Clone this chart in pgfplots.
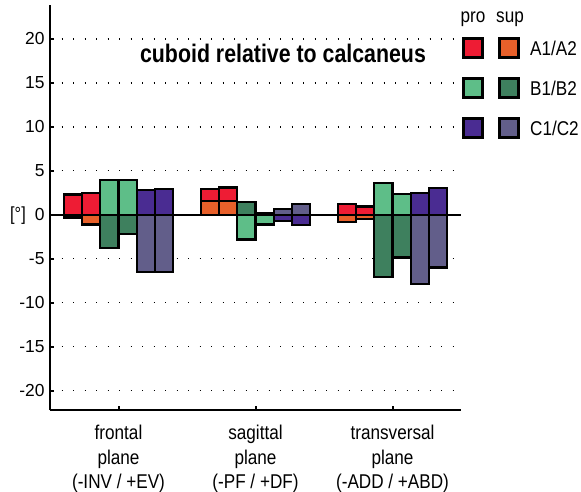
\documentclass[border=0pt]{standalone}
\usepackage{pgfplots}
\usepackage{pgfplotstable}
\pgfplotsset{compat=1.18}
\usepackage{fontspec}
\setmainfont{Liberation Sans}
\newfontfamily\titlefont[FakeStretch=0.84]{Liberation Sans Bold}
\newfontfamily\condfont[FakeStretch=0.86]{Liberation Sans}

\definecolor{proA}{RGB}{238,28,52}
\definecolor{supA}{RGB}{232,96,42}
\definecolor{proB}{RGB}{94,190,136}
\definecolor{supB}{RGB}{62,128,94}
\definecolor{proC}{RGB}{74,44,146}
\definecolor{supC}{RGB}{98,94,138}

% angle of the cuboid relative to the calcaneus [deg], one row per plane
\pgfplotstableread{
plane A1pro A1sup A2pro A2sup B1pro B1sup B2pro B2sup C1pro C1sup C2pro C2sup
1     2.30  -0.30 2.45  -1.10 4.00  -3.80 4.00  -2.15 2.80  -6.50 2.95  -6.50
2     2.90   1.60 3.10   1.60 -2.80  1.50 -1.10  0.20 -0.75  0.70 -1.15  1.25
3     1.25  -0.85 0.95  -0.45 3.65  -7.10 2.40  -4.85 2.45  -7.85 3.05  -6.00
}\datatable

\pgfplotsset{
  cond/.style={ybar, bar width=0.1333, bar shift=#1, draw=black, line width=2.2bp},
}

\begin{document}
\begin{tikzpicture}[x=1bp,y=1bp]
\useasboundingbox (0,0) rectangle (581,-492);
\begin{axis}[
  at={(50bp,-410bp)}, anchor=south west,
  scale only axis, width=411bp, height=405bp,
  xmin=0.5, xmax=3.5, ymin=-22.2, ymax=23.86,
  axis x line=bottom, axis y line=left,
  axis line style={-, line width=2.4bp, black},
  xtick={1,2,3},
  xticklabels={{frontal\\plane\\(-INV / +EV)},{sagittal\\plane\\(-PF / +DF)},{transversal\\plane\\(-ADD / +ABD)}},
  xticklabel style={align=center, font=\condfont\fontsize{20}{24.5}\selectfont, yshift=-12bp},
  ytick={-20,-15,...,20},
  yticklabel style={font=\fontsize{17.5}{18}\selectfont, xshift=-2bp},
  /pgf/number format/assume math mode=true,
  tick align=inside, major tick length=4bp,
  tick style={line width=2bp, black},
  ymajorgrids,
  grid style={black, line width=1.3bp, dash pattern=on 1.3bp off 10.2bp},
  extra y ticks={0}, extra y tick labels={},
  extra y tick style={grid style={solid, line width=2.4bp, black}, major tick length=0pt},
  clip=false,
]
% pronation values first, supination values drawn over them
\addplot[cond=-0.3333, fill=proA] table[x=plane, y=A1pro]{\datatable};
\addplot[cond=-0.2000, fill=proA] table[x=plane, y=A2pro]{\datatable};
\addplot[cond=-0.0667, fill=proB] table[x=plane, y=B1pro]{\datatable};
\addplot[cond=0.0667,  fill=proB] table[x=plane, y=B2pro]{\datatable};
\addplot[cond=0.2000,  fill=proC] table[x=plane, y=C1pro]{\datatable};
\addplot[cond=0.3333,  fill=proC] table[x=plane, y=C2pro]{\datatable};
\addplot[cond=-0.3333, fill=supA] table[x=plane, y=A1sup]{\datatable};
\addplot[cond=-0.2000, fill=supA] table[x=plane, y=A2sup]{\datatable};
\addplot[cond=-0.0667, fill=supB] table[x=plane, y=B1sup]{\datatable};
\addplot[cond=0.0667,  fill=supB] table[x=plane, y=B2sup]{\datatable};
\addplot[cond=0.2000,  fill=supC] table[x=plane, y=C1sup]{\datatable};
\addplot[cond=0.3333,  fill=supC] table[x=plane, y=C2sup]{\datatable};
\end{axis}

% title and y unit
\node[anchor=base, font=\titlefont\fontsize{25.5}{26}\selectfont] at (283,-63) {cuboid relative to calcaneus};
\node[anchor=base, font=\condfont\fontsize{19}{19}\selectfont] at (18,-221) {[°]};

% key: pronation / supination columns
\begin{scope}[font=\condfont\fontsize{20}{20}\selectfont]
\node[anchor=base] at (473,-23) {pro};
\node[anchor=base] at (510,-23) {sup};
\foreach \y/\cp/\cs/\lab in {48/proA/supA/A1\slash A2, 88/proB/supB/B1\slash B2, 128/proC/supC/C1\slash C2}{
  \node[draw=black, line width=2.4bp, fill=\cp, minimum size=19bp, inner sep=0pt] at (473,-\y) {};
  \node[draw=black, line width=2.4bp, fill=\cs, minimum size=19bp, inner sep=0pt] at (509,-\y) {};
  \node[anchor=west, inner sep=0pt] at (530,-\y) {\lab};
}
\end{scope}
\end{tikzpicture}
\end{document}
